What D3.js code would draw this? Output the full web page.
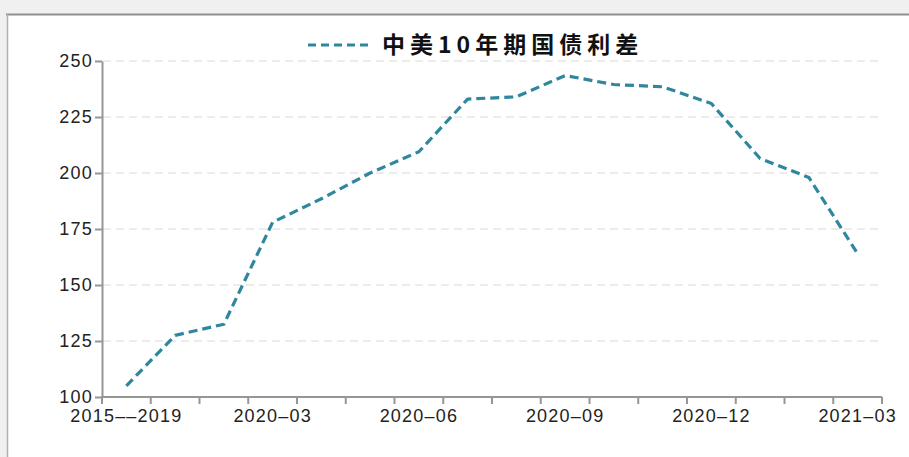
<!DOCTYPE html>
<html>
<head>
<meta charset="utf-8">
<script src="https://cdn.jsdelivr.net/npm/d3@7"></script>
<style>
  html, body { margin: 0; padding: 0; background: #f0f0f0; }
  svg { display: block; }
</style>
</head>
<body>
<svg id="chart" width="909" height="457"></svg>
<script>
// China–US 10-year government bond yield spread (bp)
const categories = [
  "2015––2019", "2020–01", "2020–02", "2020–03", "2020–04", "2020–05",
  "2020–06", "2020–07", "2020–08", "2020–09", "2020–10", "2020–11",
  "2020–12", "2021–01", "2021–02", "2021–03"
];
const spreadValues = [105, 127.5, 132.5, 178, 188.5, 200, 209.5, 233, 234, 243.5, 239.5, 238.5, 231, 206.5, 198, 164];
const labeledCategories = ["2015––2019", "2020–03", "2020–06", "2020–09", "2020–12", "2021–03"];
const yTicks = [100, 125, 150, 175, 200, 225, 250];
const seriesName = "中美10年期国债利差";

const W = 909, H = 457;
const svg = d3.select("#chart");
const lineColor = "#2f879d";
const axisColor = "#969696";
const labelFont = "'Liberation Sans', Arial, sans-serif";

// panel
svg.append("rect").attr("x", 7).attr("y", 14).attr("width", W - 7).attr("height", H - 14).attr("fill", "#ffffff");
svg.append("line").attr("x1", 6).attr("x2", W).attr("y1", 14.5).attr("y2", 14.5)
  .attr("stroke", "#8f8f8f").attr("stroke-width", 2);
svg.append("line").attr("x1", 7.5).attr("x2", 7.5).attr("y1", 14).attr("y2", H)
  .attr("stroke", "#b0b0b0").attr("stroke-width", 1.5);

const x = d3.scaleBand().domain(categories).range([102, 882]).padding(0);
const y = d3.scaleLinear().domain([100, 250]).range([397, 61]);
const cx = c => x(c) + x.bandwidth() / 2;

// gridlines
svg.append("g").selectAll("line").data(yTicks.filter(t => t > 100)).join("line")
  .attr("x1", 103).attr("x2", 882)
  .attr("y1", d => y(d)).attr("y2", d => y(d))
  .attr("stroke", "#d9d9d9").attr("stroke-width", 1.2)
  .attr("stroke-dasharray", "8,5");

// y axis
const yAxis = svg.append("g").attr("transform", "translate(102,0)")
  .call(d3.axisLeft(y).tickValues(yTicks).tickSize(7).tickSizeOuter(0).tickPadding(2));
yAxis.select(".domain").attr("stroke", axisColor).attr("stroke-width", 2);
yAxis.selectAll(".tick line").attr("stroke", axisColor).attr("stroke-width", 2);
yAxis.selectAll("text").attr("fill", "#222").style("font-family", labelFont)
  .style("font-size", "18px").style("letter-spacing", "1.2px");

// x axis
const xg = svg.append("g");
xg.append("line").attr("x1", 101).attr("x2", 882).attr("y1", 397).attr("y2", 397)
  .attr("stroke", axisColor).attr("stroke-width", 2);
const boundaries = categories.map(c => x(c)).concat([x.range()[1]]);
xg.selectAll("line.tk").data(boundaries).join("line").attr("class", "tk")
  .attr("x1", d => d).attr("x2", d => d).attr("y1", 397).attr("y2", 404)
  .attr("stroke", axisColor).attr("stroke-width", 2);
xg.selectAll("text").data(labeledCategories).join("text")
  .attr("x", d => cx(d)).attr("y", 422)
  .attr("text-anchor", "middle").attr("fill", "#222")
  .style("font-family", labelFont).style("font-size", "18px").style("letter-spacing", "1.2px")
  .text(d => d);

// series line
const line = d3.line().x((d, i) => cx(categories[i])).y(d => y(d));
svg.append("path").datum(spreadValues)
  .attr("d", line).attr("fill", "none")
  .attr("stroke", lineColor).attr("stroke-width", 3.2)
  .attr("stroke-dasharray", "9,5").attr("stroke-linejoin", "round");

// legend
const lg = svg.append("g");
lg.append("line").attr("x1", 308).attr("x2", 372).attr("y1", 45).attr("y2", 45)
  .attr("stroke", lineColor).attr("stroke-width", 3.2).attr("stroke-dasharray", "8,5");
lg.append("text").attr("x", 382).attr("y", 45).attr("dy", "0.36em")
  .attr("fill", "#111")
  .style("font-family", "'Noto Sans CJK SC', sans-serif").style("font-weight", "700")
  .style("font-size", "23px").style("letter-spacing", "5px")
  .text(seriesName);
</script>
</body>
</html>
